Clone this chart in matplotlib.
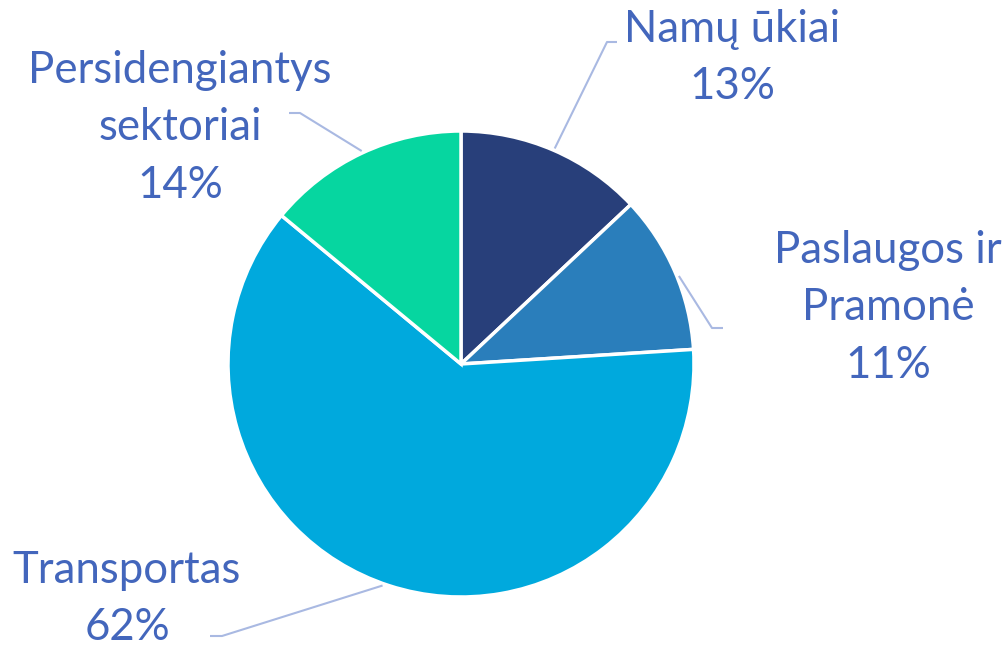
import matplotlib
matplotlib.use("Agg")
import matplotlib.pyplot as plt
import numpy as np

labels = ["Namų ūkiai", "Paslaugos ir\nPramonė", "Transportas", "Persidengiantys\nsektoriai"]
values = [13, 11, 62, 14]
colors = ["#283F7A", "#2A7EBB", "#00A9DD", "#06D6A0"]

W, H = 1007, 649
fig = plt.figure(figsize=(W / 100, H / 100), dpi=100)
ax = fig.add_axes([0, 0, 1, 1])

cx, cy, R = 461, H - 364, 233
wedges, _ = ax.pie(values, colors=colors, startangle=90, counterclock=False,
                   center=(cx, cy), radius=R, frame=True,
                   wedgeprops=dict(edgecolor="white", linewidth=2.5))
ax.set_xlim(0, W)
ax.set_ylim(0, H)
ax.set_aspect("equal")
ax.axis("off")

txt_color = "#4366BC"
line_color = "#A9B9E2"
font = "Lato"
fs = 31.5

# label block centers (pixels from top), leader start angles and elbows
label_pos = [(732, 58), (888, 308), (127, 599), (180, 128)]
leader_ang = [66.5, 22.0, -109.5, 115.0]
elbows = [((607, 42), (617, 42)), ((712, 328), (723, 328)),
          ((222, 636), (210, 636)), ((300, 113), (289, 113))]
for i, (lab, v) in enumerate(zip(labels, values)):
    r = np.deg2rad(leader_ang[i])
    px, py = cx + (R + 2) * np.cos(r), cy + (R + 2) * np.sin(r)
    (e1x, e1y), (e2x, e2y) = elbows[i]
    ax.plot([px, e1x, e2x], [py, H - e1y, H - e2y], color=line_color, lw=1.5,
            solid_capstyle="butt", zorder=1)
    tx, ty = label_pos[i]
    ax.text(tx, H - ty, f"{lab}\n{v}%", ha="center", va="center", multialignment="center",
            fontsize=fs, color=txt_color, family=font, linespacing=1.5)

fig.savefig("out.png", dpi=100)
